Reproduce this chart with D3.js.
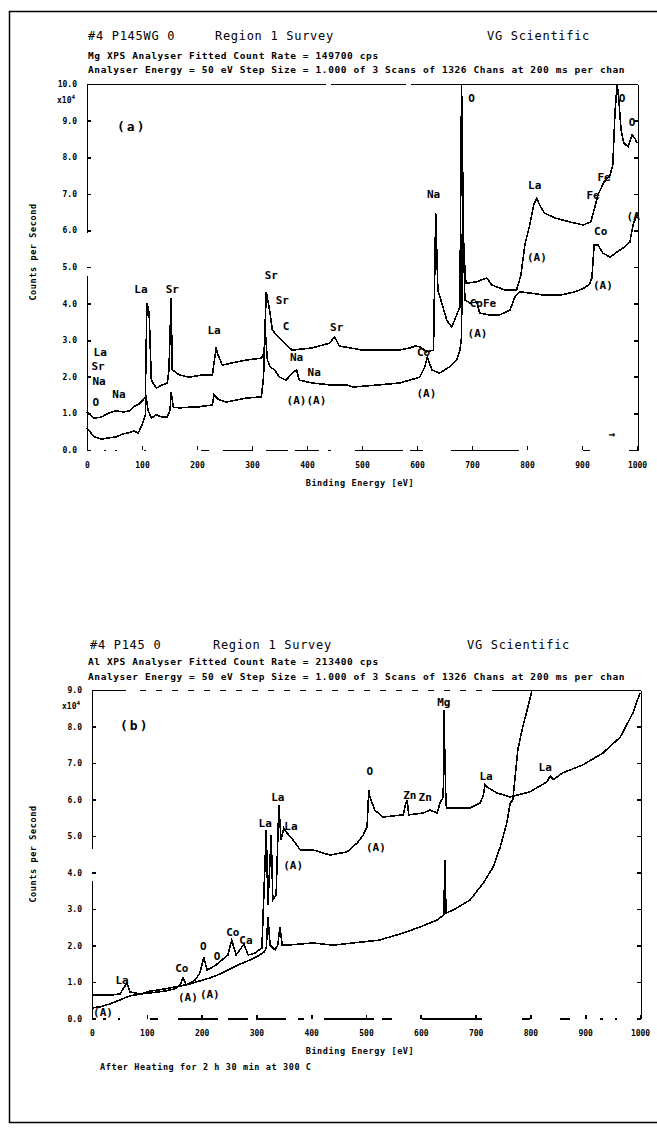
<!DOCTYPE html>
<html>
<head>
<meta charset="utf-8">
<script src="https://cdn.jsdelivr.net/npm/d3@7"></script>
<style>
  body { margin: 0; background: #fff; }
  svg { display: block; }
  .mono { font-family: "DejaVu Sans Mono", "Liberation Mono", monospace; fill: #000; }
  .title { font-size: 12px; letter-spacing: 0.7px; }
  .info { font-size: 9.5px; font-weight: bold; letter-spacing: 0.6px; }
  .peak { font-size: 11px; font-weight: bold; }
  .axis text { font-family: "DejaVu Sans Mono", monospace; font-size: 8px; font-weight: bold; }
  .axis path, .axis line { stroke: #000; stroke-width: 1.6; shape-rendering: crispEdges; }
  .spec { fill: none; stroke: #000; stroke-width: 1.6; shape-rendering: crispEdges; }
</style>
</head>
<body>
<div id="chart"></div>
<script>
// ---- data: [binding energy (eV), counts per second (x10^4)] ----
var xTickValues = d3.range(0, 1001, 100);
var yTickValuesA = d3.range(0, 11, 1);
var yTickValuesB = d3.range(0, 10, 1);

var headerA = ["#4 P145WG 0", "Region 1  Survey", "VG Scientific"];
var infoA = ["Mg XPS   Analyser Fitted Count Rate = 149700 cps",
  "Analyser Energy = 50 eV   Step Size = 1.000 of 3 Scans of 1326 Chans at 200 ms per chan"];
var headerB = ["#4 P145 0", "Region 1  Survey", "VG Scientific"];
var infoB = ["Al XPS   Analyser Fitted Count Rate = 213400 cps",
  "Analyser Energy = 50 eV   Step Size = 1.000 of 3 Scans of 1326 Chans at 200 ms per chan"];
var footnoteB = "After Heating for 2 h  30 min at 300 C";

var upperA = [[0,1.04],[13,0.87],[26,0.90],[40,1.01],[53,1.07],[67,1.04],[77,1.07],[87,1.20],[95,1.26],
  [102,1.37],[106,1.45],[109,4.02],[113,3.74],[117,1.91],[126,1.69],[137,1.78],[146,1.83],[149,2.19],
  [153,4.15],[155,2.19],[168,2.05],[186,1.99],[209,2.05],[228,2.05],[235,2.81],[237,2.65],[246,2.32],
  [264,2.38],[290,2.46],[317,2.51],[322,2.65],[326,4.32],[332,3.82],[337,3.28],[344,3.14],[350,3.06],
  [362,2.87],[373,2.73],[410,2.79],[441,2.92],[450,3.09],[459,2.84],[501,2.73],[532,2.73],[568,2.73],
  [587,2.79],[597,2.84],[607,2.81],[617,2.68],[630,2.73],[634,6.47],[638,4.37],[645,4.02],[654,3.55],
  [663,3.36],[670,3.61],[678,3.91],[681,10.0],[685,5.46],[689,4.56],[707,4.59],[727,4.70],[736,4.51],
  [760,4.37],[781,4.37],[789,4.78],[796,5.60],[805,6.15],[812,6.69],[818,6.88],[823,6.69],[832,6.47],
  [851,6.34],[878,6.23],[902,6.15],[916,6.23],[922,6.56],[929,6.97],[940,7.32],[951,7.51],[956,7.79],
  [960,9.23],[964,10.0],[967,9.56],[971,8.74],[976,8.39],[984,8.28],[991,8.61],[996,8.52],[1000,8.39]];

var lowerA = [[0,0.60],[13,0.36],[26,0.30],[40,0.33],[53,0.36],[66,0.44],[73,0.46],[86,0.52],[93,0.46],
  [100,0.68],[106,0.96],[107,1.50],[111,1.09],[117,0.87],[126,0.96],[137,0.90],[146,0.90],[151,1.09],
  [153,1.58],[157,1.17],[168,1.15],[186,1.17],[199,1.17],[213,1.20],[228,1.23],[231,1.50],[240,1.37],
  [253,1.31],[290,1.42],[317,1.45],[321,1.99],[324,3.28],[328,2.46],[333,2.27],[341,2.19],[350,1.99],
  [362,1.91],[373,2.10],[381,2.19],[386,1.91],[410,1.83],[441,1.78],[472,1.78],[483,1.72],[532,1.78],
  [568,1.83],[587,1.91],[605,1.99],[614,2.27],[619,2.54],[627,2.19],[641,2.10],[659,2.27],[672,2.46],
  [678,2.73],[681,3.09],[683,7.10],[687,4.10],[696,4.02],[709,4.04],[714,3.74],[732,3.69],[750,3.69],
  [769,3.82],[778,4.18],[787,4.32],[805,4.29],[832,4.23],[860,4.23],[887,4.32],[905,4.43],[914,4.54],
  [918,4.70],[922,5.60],[929,5.60],[938,5.38],[951,5.27],[964,5.41],[975,5.52],[987,5.68],[993,6.17],
  [1000,6.42]];

var upperB = [[0,0.64],[33,0.64],[51,0.67],[58,0.84],[64,0.97],[69,0.73],[88,0.67],[106,0.70],[133,0.75],
  [151,0.81],[161,0.92],[166,1.11],[172,0.92],[188,1.05],[197,1.25],[204,1.68],[210,1.33],[224,1.44],
  [237,1.60],[248,1.74],[255,2.15],[263,1.74],[270,1.88],[277,2.04],[285,1.74],[297,1.79],[310,1.93],
  [318,5.17],[321,3.11],[327,5.03],[330,3.25],[336,3.38],[341,5.85],[345,4.89],[350,5.22],[356,5.08],
  [367,4.89],[380,4.62],[403,4.62],[434,4.48],[465,4.56],[484,4.81],[495,5.03],[502,5.25],[505,6.26],
  [507,6.07],[516,5.71],[531,5.52],[568,5.58],[571,5.80],[575,5.99],[578,5.58],[604,5.63],[617,5.71],
  [630,5.63],[635,5.90],[641,6.07],[642,8.45],[646,5.85],[648,5.77],[690,5.77],[708,5.90],[714,6.10],
  [717,6.40],[721,6.34],[739,6.18],[763,6.07],[776,6.12],[799,6.21],[830,6.48],[836,6.64],[842,6.55],
  [859,6.73],[896,6.95],[932,7.27],[964,7.71],[987,8.37],[1000,8.92]];

var lowerB = [[0,0.29],[15,0.32],[33,0.40],[51,0.51],[69,0.62],[88,0.67],[106,0.75],[133,0.81],[161,0.89],
  [179,0.95],[197,1.03],[215,1.11],[234,1.22],[252,1.36],[270,1.49],[288,1.60],[303,1.71],[314,1.82],
  [318,1.93],[321,2.78],[325,2.01],[334,1.88],[339,2.01],[343,2.51],[347,2.01],[356,2.01],[403,2.07],
  [440,2.01],[495,2.10],[526,2.15],[538,2.21],[568,2.34],[599,2.51],[630,2.70],[642,2.84],[644,4.34],
  [646,2.89],[659,2.97],[690,3.25],[714,3.71],[732,4.15],[745,4.70],[757,5.36],[763,5.90],[768,5.99],
  [777,7.36],[786,7.99],[794,8.45],[803,9.0]];

// peak labels: [text, binding energy, counts]
var labelsA = [["La",24,2.68],["Sr",20,2.30],["Na",22,1.89],["O",16,1.31],["Na",58,1.53],["La",98,4.40],
  ["Sr",155,4.40],["La",231,3.28],["Sr",335,4.78],["Sr",355,4.10],["C",362,3.39],["Na",381,2.54],
  ["Na",413,2.13],["(A)(A)",399,1.37],["Sr",454,3.36],["Co",612,2.68],["(A)",617,1.56],["Na",630,7.0],
  ["O",699,9.62],["La",814,7.24],["(A)",818,5.27],["CoFe",720,4.02],["(A)",710,3.20],["Fe",940,7.46],
  ["Fe",920,6.97],["O",973,9.62],["O",991,8.96],["Co",934,5.98],["(A)",938,4.51],["(A",993,6.39]];

var labelsB = [["La",55,1.05],["(A)",20,0.18],["Co",164,1.38],["(A)",175,0.60],["(A)",215,0.68],
  ["O",203,1.99],["O",228,1.71],["Co",257,2.37],["Ca",281,2.15],["La",316,5.36],["La",339,6.07],
  ["La",363,5.27],["(A)",367,4.21],["O",507,6.78],["(A)",518,4.70],["Zn",580,6.12],["Zn",608,6.07],
  ["Mg",642,8.67],["La",719,6.64],["La",827,6.89]];

var svgWidth = 657;
var svgHeight = 1133;

var svg = d3.select("#chart")
  .append("svg")
  .attr("width", svgWidth)
  .attr("height", svgHeight);

// outer border of the scanned page
svg.append("path")
  .attr("d", "M660,11.5H9.5V1122.5H660")
  .attr("fill", "none")
  .attr("stroke", "#000")
  .attr("stroke-width", 1.5);

var panelA = {
  left: 87, right: 637, top: 84, bottom: 450, yMax: 10, yTicks: yTickValuesA,
  titleY: 36, infoY: [56, 70], titleX: [88, 215, 487],
  header: headerA, info: infoA, tag: "(a)", tagX: 117, tagY: 131,
  series: [upperA, lowerA], labels: labelsA,
  leftDash: "175,43,400", topDash: "238,5,75,5,400",
  bottomDash: "0,16,2,9,2,27,2,55,8,14,30,13,22,7,24,9,3,24,48,7,13,28,68,64,7,39,6,20",
  xTitleY: 486, yTitleY: 252, expY: 103
};

var panelB = {
  left: 92, right: 640, top: 690, bottom: 1018.5, yMax: 9, yTicks: yTickValuesB,
  titleY: 645, infoY: [662, 677], titleX: [90, 213, 467],
  header: headerB, info: infoB, tag: "(b)", tagX: 120, tagY: 730,
  series: [upperB, lowerB], labels: labelsB,
  leftDash: "138,32,400", topDash: "33,14," + d3.range(22).map(function() { return "6,10"; }).join(",") + ",200",
  bottomDash: "0,10,3,12,2,30,8,20,40,10,20,8,30,12,6,20,50,8,10,30,60,40,8,30,10,20",
  xTitleY: 1054, yTitleY: 854, expY: 709, footnote: footnoteB
};

function drawPanel(p) {
  var g = svg.append("g");

  var xScale = d3.scaleLinear().domain([0, 1000]).range([p.left, p.right]);
  var yScale = d3.scaleLinear().domain([0, p.yMax]).range([p.bottom, p.top]);

  // header lines
  p.header.forEach(function(t, i) {
    g.append("text").attr("class", "mono title")
      .attr("x", p.titleX[i]).attr("y", p.titleY + 4).text(t);
  });
  p.info.forEach(function(t, i) {
    g.append("text").attr("class", "mono info")
      .attr("x", 88).attr("y", p.infoY[i] + 3).text(t);
  });

  // left axis with labels, ticks pointing inside
  var leftAxis = g.append("g").attr("class", "axis")
    .attr("transform", `translate(${p.left}, 0)`)
    .call(d3.axisLeft(yScale).tickValues(p.yTicks).tickSizeInner(-4).tickSizeOuter(0)
      .tickPadding(10).tickFormat(d3.format(".1f")));
  leftAxis.select(".domain").attr("stroke-dasharray", p.leftDash);

  // right frame
  g.append("g").attr("class", "axis")
    .attr("transform", `translate(${p.right + 1}, 0)`)
    .call(d3.axisLeft(yScale).tickValues(p.yTicks).tickSizeInner(4).tickSizeOuter(0).tickFormat(""));

  // top frame
  g.append("g").attr("class", "axis")
    .attr("transform", `translate(0, ${p.top})`)
    .call(d3.axisTop(xScale).tickValues([]).tickSizeOuter(0))
    .select(".domain").attr("stroke-dasharray", p.topDash);

  // bottom axis
  var bottomAxis = g.append("g").attr("class", "axis")
    .attr("transform", `translate(0, ${p.bottom})`)
    .call(d3.axisBottom(xScale).tickValues(xTickValues).tickSizeInner(-4).tickSizeOuter(0)
      .tickPadding(12).tickFormat(d3.format("d")));
  bottomAxis.select(".domain").attr("stroke-dasharray", p.bottomDash);

  // exponent
  var ex = g.append("text").attr("class", "mono")
    .attr("x", p.left - 30).attr("y", p.expY)
    .attr("font-size", 8).attr("font-weight", "bold")
    .text("x10");
  ex.append("tspan").attr("dy", -4).attr("font-size", 6).text("4");

  // axis titles
  g.append("text").attr("class", "mono")
    .attr("x", 360).attr("y", p.xTitleY)
    .attr("text-anchor", "middle").attr("font-size", 8.5).attr("font-weight", "bold")
    .attr("letter-spacing", 0.6)
    .text("Binding Energy  [eV]");

  g.append("text").attr("class", "mono")
    .attr("transform", `translate(36, ${p.yTitleY}) rotate(-90)`)
    .attr("text-anchor", "middle").attr("font-size", 8.5).attr("font-weight", "bold")
    .attr("letter-spacing", 0.6)
    .text("Counts per Second");

  // panel tag
  g.append("text").attr("class", "mono")
    .attr("x", p.tagX).attr("y", p.tagY)
    .attr("font-size", 13).attr("font-weight", "bold").attr("letter-spacing", 2)
    .text(p.tag);

  // spectra
  var line = d3.line()
    .x(d => xScale(d[0]))
    .y(d => yScale(d[1]));

  p.series.forEach(function(s) {
    g.append("path").attr("class", "spec").attr("d", line(s));
  });

  // peak labels
  g.selectAll(".peak")
    .data(p.labels)
    .enter()
    .append("text")
    .attr("class", "mono peak")
    .attr("text-anchor", "middle")
    .attr("x", d => xScale(d[1]))
    .attr("y", d => yScale(d[2]) + 4)
    .text(d => d[0]);

  if (p.footnote) {
    g.append("text").attr("class", "mono")
      .attr("x", 100).attr("y", p.xTitleY + 16)
      .attr("font-size", 8.5).attr("font-weight", "bold").attr("letter-spacing", 0.6)
      .text(p.footnote);
  }
}

drawPanel(panelA);
drawPanel(panelB);

// small arrow marker in panel (a)
svg.append("text").attr("class", "mono")
  .attr("x", 612).attr("y", 438)
  .attr("text-anchor", "middle").attr("font-size", 11).attr("font-weight", "bold")
  .text("→");
</script>
</body>
</html>
